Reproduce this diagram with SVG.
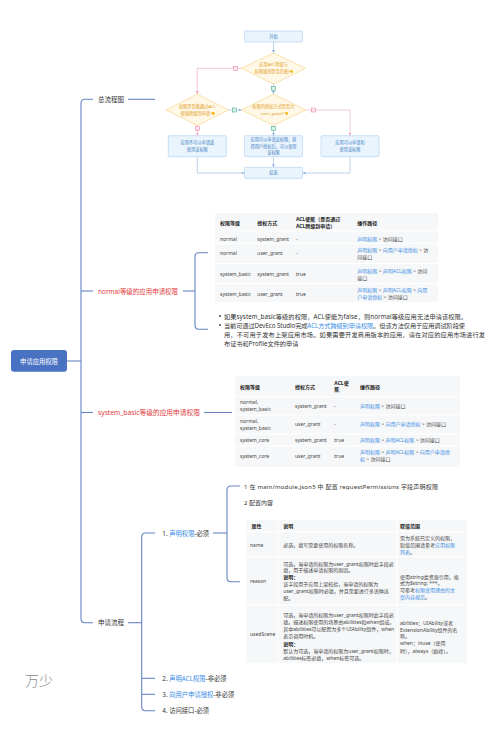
<svg xmlns="http://www.w3.org/2000/svg" width="500" height="729" viewBox="0 0 500 729">
<style>
text{font-family:"Noto Sans","Noto Sans CJK SC",sans-serif;dominant-baseline:central;fill:#333}
.br{fill:none;stroke:#6683c4;stroke-width:1.1}
.fl{fill:none;stroke:#8fb3dc;stroke-width:0.6}
.fp{fill:none;stroke:#f2a3b8;stroke-width:0.6}
.box{fill:#eaf4fd;stroke:#a9cdef;stroke-width:0.6}
.dec{fill:#fff8e6;stroke:#f5d27a;stroke-width:0.6}
.bt{font-size:4.2px;fill:#3b7cc4;text-anchor:middle}
.dt{font-size:4.2px;fill:#e39b1b;text-anchor:middle}
.mp{fill:#fde6ee;stroke:#e8769c;stroke-width:0.5}
.mg{fill:#d6f2e9;stroke:#2fa383;stroke-width:0.5}
.tbl{fill:#f6f7f8}
.sep{stroke:#ffffff;stroke-width:1}
.tb{font-size:5px;fill:#444}
.th{font-size:5px;fill:#222;font-weight:bold}
.lk{fill:#3a8ee6}
.lab{font-size:6.5px;fill:#333}
.red{font-size:6.8px;fill:#e23c3c}
.it{font-size:6.3px;fill:#333}
.bl{font-size:6.2px;fill:#333}
</style>
<defs>
<marker id="ab" viewBox="0 0 6 6" refX="6" refY="3" markerWidth="3" markerHeight="3" markerUnits="userSpaceOnUse" orient="auto"><path d="M0,0 L6,3 L0,6 z" fill="#8fb3dc"/></marker>
<marker id="ap" viewBox="0 0 6 6" refX="6" refY="3" markerWidth="3" markerHeight="3" markerUnits="userSpaceOnUse" orient="auto"><path d="M0,0 L6,3 L0,6 z" fill="#f2a3b8"/></marker>
</defs>
<rect width="500" height="729" fill="#ffffff"/>

<g id="connectors">
<path class="br" d="M67 361 H81"/>
<path class="br" d="M93 99.3 H85 Q81 99.3 81 103.3 V618.7 Q81 622.7 85 622.7 H93"/>
<path class="br" d="M81 291 H93"/>
<path class="br" d="M81 412.5 H93"/>
<path class="br" d="M128 99.3 H155"/>
<path class="br" d="M183 291 H195"/>
<path class="br" d="M208 252.7 H199 Q195 252.7 195 256.7 V325.3 Q195 329.3 199 329.3 H208"/>
<path class="br" d="M204 412.5 H232"/>
<path class="br" d="M128 622.7 H141.7"/>
<path class="br" d="M155 533 H145.7 Q141.7 533 141.7 537 V706.7 Q141.7 710.7 145.7 710.7 H155"/>
<path class="br" d="M141.7 678.3 H155"/>
<path class="br" d="M141.7 694.3 H155"/>
<path class="br" d="M213 533 H227"/>
<path class="br" d="M240 486 H231 Q227 486 227 490 V577.7 Q227 581.7 231 581.7 H240"/>
<!-- flowchart connectors -->
<path class="fl" d="M273.5 42 V53" marker-end="url(#ab)"/>
<path class="fp" d="M241.5 68.3 H197.3 V94" marker-end="url(#ap)"/>
<path class="fl" d="M273.5 84 V94" marker-end="url(#ab)"/>
<path class="fl" d="M228.5 110 H241.5" marker-end="url(#ab)"/>
<path class="fp" d="M197.3 125.5 V135.7" marker-end="url(#ap)"/>
<path class="fl" d="M273.5 125.5 V135.7" marker-end="url(#ab)"/>
<path class="fp" d="M305.5 110 H350 V135.7" marker-end="url(#ap)"/>
<path class="fl" d="M197.3 156.7 V173 H244.5" marker-end="url(#ab)"/>
<path class="fl" d="M350 156.7 V173 H302.5" marker-end="url(#ab)"/>
<path class="fl" d="M273.5 156.7 V167.3" marker-end="url(#ab)"/>
<rect class="mp" x="233.7" y="66.3" width="4" height="4"/>
<rect class="mg" x="271.5" y="86.5" width="4" height="4"/>
<rect class="mg" x="232.3" y="108" width="4" height="4"/>
<rect class="mp" x="195.3" y="126.5" width="4" height="4"/>
<rect class="mg" x="271.5" y="126.3" width="4" height="4"/>
<rect class="mp" x="311.3" y="108" width="4" height="4"/>
</g>

<g id="root">
<rect x="11" y="350" width="56" height="21.7" rx="3" fill="#4a72c2"/>
<text x="39" y="361" style="font-size:6.3px;fill:#ffffff;text-anchor:middle">申请应用权限</text>
</g>

<g id="b1"><text class="lab" x="98" y="99.3">总流程图</text></g>

<g id="flow-start"><rect class="box" x="244.5" y="31" width="58" height="11" rx="1"/><text class="bt" x="273.5" y="36.5">开始</text></g>
<g id="flow-d1"><path class="dec" d="M273.5 53 L305.5 68.3 L273.5 84 L241.5 68.3 Z"/>
<text class="dt" x="273.5" y="64.6">应用APL等级与</text><text class="dt" x="272.5" y="71.6">权限级别是否匹配?</text><circle cx="291.5" cy="71.6" r="1.4" fill="#f0b400"/></g>
<g id="flow-d2"><path class="dec" d="M197.3 94 L228.5 110 L197.3 125.5 L166 110 Z"/>
<text class="dt" x="197.3" y="106.6">权限是否能通过ACL</text><text class="dt" x="196.3" y="113.4">使能跨级别申请?</text><circle cx="213.3" cy="113.4" r="1.4" fill="#f0b400"/></g>
<g id="flow-d3"><path class="dec" d="M273.5 94 L305.5 110 L273.5 125.5 L241.5 110 Z"/>
<text class="dt" x="273.5" y="106.6">权限的授权方式是否为</text><text class="dt" x="272.5" y="113.4">user_grant?</text><circle cx="286.5" cy="113.4" r="1.4" fill="#f0b400"/></g>
<g id="flow-b1"><rect class="box" x="168.3" y="135.7" width="58" height="21" rx="1"/>
<text class="bt" x="197.3" y="142.5">应用不可以申请或</text><text class="bt" x="197.3" y="149.3">使用该权限</text></g>
<g id="flow-b2"><rect class="box" x="244.5" y="135.7" width="58" height="21" rx="1"/>
<text class="bt" x="273.5" y="139.6">应用可以申请该权限，获</text><text class="bt" x="273.5" y="146">得用户授权后，可以使用</text><text class="bt" x="273.5" y="152.4">该权限</text></g>
<g id="flow-b3"><rect class="box" x="321" y="135.7" width="58" height="21" rx="1"/>
<text class="bt" x="350" y="142.5">应用可以申请和</text><text class="bt" x="350" y="149.3">使用该权限</text></g>
<g id="flow-end"><rect class="box" x="244.5" y="167.3" width="58" height="11" rx="1"/><text class="bt" x="273.5" y="172.8">结束</text></g>

<g id="b2"><text class="red" x="98" y="291" textLength="80" lengthAdjust="spacingAndGlyphs">normal等级的应用申请权限</text></g>

<g id="table1">
<rect class="tbl" x="215" y="213" width="223" height="89"/>
<path class="sep" d="M215 231 H438 M215 243.3 H438 M215 263.5 H438 M215 283.5 H438"/>
<text class="th" x="220" y="222.5">权限等级</text><text class="th" x="257.3" y="222.5">授权方式</text>
<text class="th" x="296" y="219.3">ACL使能（是否通过</text><text class="th" x="296" y="225.7">ACL跨级别申请）</text>
<text class="th" x="357.3" y="222.5">操作路径</text>
<text class="tb" x="220" y="238.5">normal</text><text class="tb" x="257.3" y="238.5">system_grant</text><text class="tb" x="296" y="238.5">-</text>
<text class="tb" x="357.3" y="238.5"><tspan class="lk">声明权限</tspan> &gt; 访问接口</text>
<text class="tb" x="220" y="253.3">normal</text><text class="tb" x="257.3" y="253.3">user_grant</text><text class="tb" x="296" y="253.3">-</text>
<text class="tb" x="357.3" y="250"><tspan class="lk">声明权限</tspan> &gt; <tspan class="lk">向用户申请授权</tspan> &gt; 访</text>
<text class="tb" x="357.3" y="257">问接口</text>
<text class="tb" x="220" y="274.3">system_basic</text><text class="tb" x="257.3" y="274.3">system_grant</text><text class="tb" x="296" y="274.3">true</text>
<text class="tb" x="357.3" y="270.8"><tspan class="lk">声明权限</tspan> &gt; <tspan class="lk">声明ACL权限</tspan> &gt; 访问</text>
<text class="tb" x="357.3" y="277.8">接口</text>
<text class="tb" x="220" y="293.7">system_basic</text><text class="tb" x="257.3" y="293.7">user_grant</text><text class="tb" x="296" y="293.7">true</text>
<text class="tb" x="357.3" y="290"><tspan class="lk">声明权限</tspan> &gt; <tspan class="lk">声明ACL权限</tspan> &gt; <tspan class="lk">向用</tspan></text>
<text class="tb" x="357.3" y="297"><tspan class="lk">户申请授权</tspan> &gt; 访问接口</text>
</g>

<g id="notes">
<circle cx="220" cy="316" r="0.9" fill="#333"/>
<circle cx="220" cy="325" r="0.9" fill="#333"/>
<text class="bl" x="224" y="316" textLength="243" lengthAdjust="spacing">如果system_basic等级的权限，ACL使能为false，则normal等级应用无法申请该权限。</text>
<text class="bl" x="224" y="325" textLength="241" lengthAdjust="spacing">当前可通过DevEco Studio完成<tspan class="lk">ACL方式跨级别申请权限</tspan>。但该方法仅用于应用调试阶段使</text>
<text class="bl" x="224" y="334.3" textLength="261" lengthAdjust="spacing">用，不可用于发布上架应用市场。如果需要开发商用版本的应用，请在对应的应用市场进行发</text>
<text class="bl" x="224" y="343.3">布证书和Profile文件的申请</text>
</g>

<g id="b3"><text class="red" x="98" y="412.5" textLength="102" lengthAdjust="spacingAndGlyphs">system_basic等级的应用申请权限</text></g>

<g id="table2">
<rect class="tbl" x="235" y="376" width="225" height="91"/>
<path class="sep" d="M235 396.7 H460 M235 415 H460 M235 434 H460 M235 446 H460"/>
<text class="th" x="240" y="386.7">权限等级</text><text class="th" x="295" y="386.7">授权方式</text>
<text class="th" x="334.3" y="382.5">ACL使</text><text class="th" x="334.3" y="389">能</text><text class="th" x="360" y="386.7">操作路径</text>
<text class="tb" x="240" y="402.3">normal,</text><text class="tb" x="240" y="409.3">system_basic</text>
<text class="tb" x="295" y="405.5">system_grant</text><text class="tb" x="334.3" y="405.5">-</text>
<text class="tb" x="360" y="405.5"><tspan class="lk">声明权限</tspan> &gt; 访问接口</text>
<text class="tb" x="240" y="421">normal,</text><text class="tb" x="240" y="427.7">system_basic</text>
<text class="tb" x="295" y="424.3">user_grant</text><text class="tb" x="334.3" y="424.3">-</text>
<text class="tb" x="360" y="424.3"><tspan class="lk">声明权限</tspan> &gt; <tspan class="lk">向用户申请授权</tspan> &gt; 访问接口</text>
<text class="tb" x="240" y="440.3">system_core</text><text class="tb" x="295" y="440.3">system_grant</text><text class="tb" x="334.3" y="440.3">true</text>
<text class="tb" x="360" y="440.3"><tspan class="lk">声明权限</tspan> &gt; <tspan class="lk">声明ACL权限</tspan> &gt; 访问接口</text>
<text class="tb" x="240" y="455.5">system_core</text><text class="tb" x="295" y="455.5">user_grant</text><text class="tb" x="334.3" y="455.5">true</text>
<text class="tb" x="360" y="451.7"><tspan class="lk">声明权限</tspan> &gt; <tspan class="lk">声明ACL权限</tspan> &gt; <tspan class="lk">向用户申请授</tspan></text>
<text class="tb" x="360" y="459.3"><tspan class="lk">权</tspan> &gt; 访问接口</text>
</g>

<g id="b4"><text class="lab" x="98" y="622.7">申请流程</text></g>
<g id="s1"><text class="it" x="162.3" y="533">1. <tspan class="lk">声明权限</tspan>-必须</text></g>
<g id="s2"><text class="it" x="162.3" y="678.3">2. <tspan class="lk">声明ACL权限</tspan>-非必须</text></g>
<g id="s3"><text class="it" x="162.3" y="694.3">3. <tspan class="lk">向用户申请授权</tspan>-非必须</text></g>
<g id="s4"><text class="it" x="162.3" y="710.7">4. 访问接口-必须</text></g>

<g id="s1-detail">
<text class="it" x="244" y="486.5" textLength="194" lengthAdjust="spacing" style="font-size:6px">1 在 main/module.json5 中 配置  requestPermissions 字段声明权限</text>
<text class="it" x="244" y="503.3" style="font-size:6px">2 配置内容</text>
</g>

<g id="table3">
<rect class="tbl" x="246" y="520" width="221" height="143.3"/>
<path class="sep" d="M246 531.7 H467 M246 556.7 H467 M246 605 H467 M278 520 V663.3 M397 520 V663.3"/>
<text class="th" x="251.5" y="526">属性</text><text class="th" x="283.3" y="526">说明</text><text class="th" x="400" y="526">取值范围</text>
<text class="tb" x="250" y="544.5">name</text>
<text class="tb" x="283.3" y="544.5">必选，填写需要使用的权限名称。</text>
<text class="tb" x="400" y="538">需为系统已定义的权限，</text>
<text class="tb" x="400" y="545">取值范围请参考<tspan class="lk">应用权限</tspan></text>
<text class="tb" x="400" y="552"><tspan class="lk">列表</tspan>。</text>
<text class="tb" x="250" y="581">reason</text>
<text class="tb" x="283.3" y="563.5">可选，当申请的权限为user_grant权限时此字段必</text>
<text class="tb" x="283.3" y="570.4">填，用于描述申请权限的原因。</text>
<text class="th" x="283.3" y="577.3">说明：</text>
<text class="tb" x="283.3" y="584.2">该字段用于应用上架校验，当申请的权限为</text>
<text class="tb" x="283.3" y="591.1">user_grant权限时必填，并且需要进行多语种适</text>
<text class="tb" x="283.3" y="598">配。</text>
<text class="tb" x="400" y="576.5">使用string类资源引用，格</text>
<text class="tb" x="400" y="583">式为$string: ***。</text>
<text class="tb" x="400" y="590">可参考<tspan class="lk">权限使用理由的文</tspan></text>
<text class="tb" x="400" y="596.5"><tspan class="lk">案内容规范</tspan>。</text>
<text class="tb" x="250" y="634">usedScene</text>
<text class="tb" x="283.3" y="614.5">可选，当申请的权限为user_grant权限时此字段必</text>
<text class="tb" x="283.3" y="621.7">填。描述权限使用的场景由abilities和when组成。</text>
<text class="tb" x="283.3" y="629">其中abilities可以配置为多个UIAbility组件，when</text>
<text class="tb" x="283.3" y="636.2">表示调用时机。</text>
<text class="th" x="283.3" y="643.5">说明：</text>
<text class="tb" x="283.3" y="650.7">默认为可选，当申请的权限为user_grant权限时，</text>
<text class="tb" x="283.3" y="658">abilities标签必填，when标签可选。</text>
<text class="tb" x="400" y="623.3">abilities：UIAbility或者</text>
<text class="tb" x="400" y="629.8">ExtensionAbility组件的名</text>
<text class="tb" x="400" y="636.3">称。</text>
<text class="tb" x="400" y="643.3">when：inuse（使用</text>
<text class="tb" x="400" y="650.5">时），always（始终）。</text>
</g>

<g id="watermark"><text x="25" y="680" style="font-size:14px;fill:#8a8a8a;font-weight:300">万少</text></g>
</svg>
